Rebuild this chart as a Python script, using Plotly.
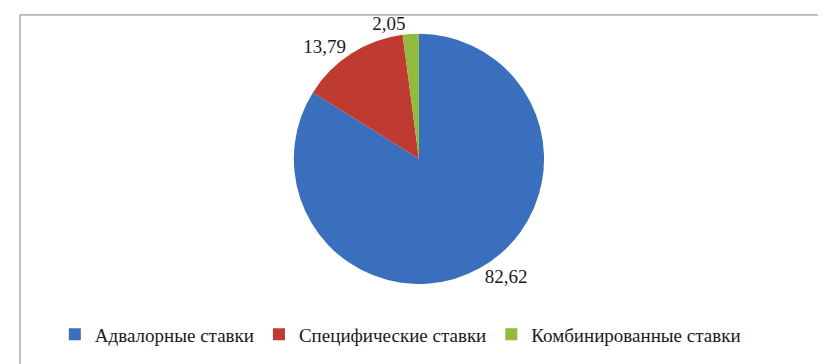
import plotly.graph_objects as go

categories = ["Адвалорные ставки", "Специфические ставки", "Комбинированные ставки"]
values = [82.62, 13.79, 2.05]
colors = ["#3A6FBE", "#BF3A31", "#93BA3A"]

W, H = 826, 364
SERIF = "'Liberation Serif', 'Times New Roman', serif"

fig = go.Figure(go.Pie(
    labels=categories,
    values=values,
    sort=False,
    direction="clockwise",
    rotation=0,
    marker=dict(colors=colors, line=dict(width=0)),
    textinfo="value",
    texttemplate="%{value:.2f}",
    textposition="outside",
    outsidetextfont=dict(family=SERIF, size=19, color="#1a1a1a"),
    hole=0,
    domain=dict(x=[0.25, 0.745], y=[1 - 275 / H, 1 - 22 / H]),
    showlegend=True,
))

fig.update_layout(
    width=W, height=H,
    margin=dict(l=0, r=0, t=0, b=0),
    paper_bgcolor="white",
    plot_bgcolor="white",
    separators=", ",
    font=dict(family=SERIF, size=18, color="#1a1a1a"),
    legend=dict(
        orientation="h",
        x=0.475, xanchor="center",
        y=1 - 326 / H, yanchor="middle",
        font=dict(family=SERIF, size=19, color="#1a1a1a"),
        itemsizing="constant",
        itemwidth=30,
    ),
    shapes=[dict(
        type="rect", xref="paper", yref="paper",
        x0=12 / W, x1=814 / W, y0=1 - 357 / H, y1=1 - 3 / H,
        line=dict(color="#7f7f7f", width=1),
        fillcolor="rgba(0,0,0,0)", layer="below",
    )],
)

fig.write_html("out.html")
